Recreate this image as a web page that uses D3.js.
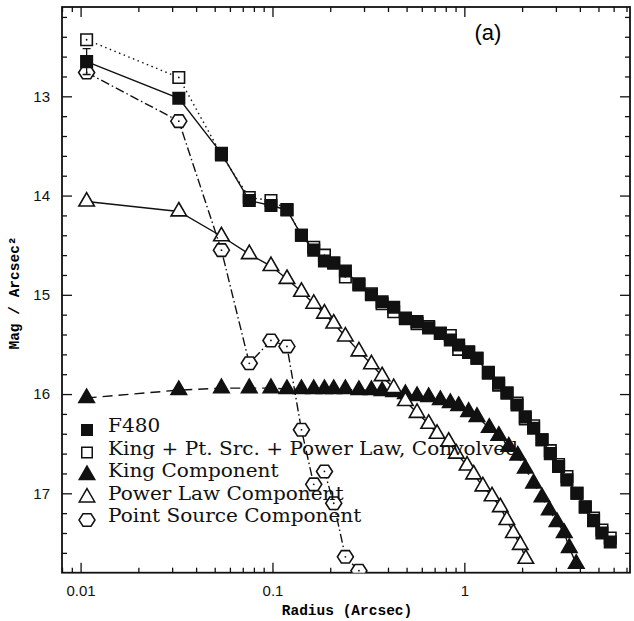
<!DOCTYPE html>
<html>
<head>
<meta charset="utf-8">
<script src="https://cdn.jsdelivr.net/npm/d3@7"></script>
<style>
body { margin: 0; background: #fff; }
</style>
</head>
<body>
<div id="chart"></div>
<script>
// observed F480 profile (filled squares) and the convolved model (open squares), same radii
var f480Radius = [0.01075, 0.0325, 0.0542, 0.0757, 0.0982, 0.119, 0.1416, 0.1641, 0.1866, 0.2086,
	0.2399, 0.2822, 0.3279, 0.3727, 0.4283, 0.4929, 0.5669, 0.6518, 0.7499, 0.8453,
	0.9338, 1.053, 1.164, 1.334, 1.509, 1.669, 1.882, 2.078, 2.296, 2.540,
	2.805, 3.098, 3.426, 3.864, 4.268, 4.714, 5.214, 5.760];
var f480Mag = [12.65, 13.02, 13.575, 14.05, 14.10, 14.145, 14.40, 14.55, 14.66, 14.68,
	14.76, 14.89, 15.00, 15.07, 15.125, 15.235, 15.27, 15.335, 15.385, 15.455,
	15.505, 15.575, 15.64, 15.79, 15.89, 15.99, 16.11, 16.23, 16.345, 16.46,
	16.60, 16.73, 16.865, 17.00, 17.135, 17.275, 17.40, 17.49];
var f480Err = [0.13];
var modelMag = [12.43, 12.81, 13.59, 14.02, 14.05, 14.14, 14.40, 14.52, 14.60, 14.68,
	14.82, 14.90, 14.99, 15.09, 15.17, 15.24, 15.29, 15.32, 15.39, 15.41,
	15.55, 15.58, 15.64, 15.78, 15.91, 15.99, 16.09, 16.25, 16.32, 16.46,
	16.57, 16.71, 16.83, 17.00, 17.14, 17.25, 17.37, 17.45];

// king component (filled triangles)
var kingRadius = [0.01075, 0.0325, 0.0542, 0.0757, 0.0982, 0.119, 0.1416, 0.1641, 0.1866, 0.2086,
	0.2399, 0.2822, 0.3279, 0.3727, 0.4283, 0.4929, 0.5669, 0.6518, 0.7499, 0.8453,
	0.9338, 1.053, 1.164, 1.349, 1.513, 1.705, 1.899, 2.078, 2.296, 2.540,
	2.772, 3.040, 3.318, 3.523, 3.831];
var kingMag = [16.04, 15.96, 15.94, 15.94, 15.94, 15.95, 15.95, 15.95, 15.95, 15.95,
	15.95, 15.96, 15.96, 15.97, 15.98, 16.00, 16.02, 16.03, 16.06, 16.09,
	16.12, 16.18, 16.23, 16.34, 16.42, 16.53, 16.62, 16.75, 16.90, 17.04,
	17.17, 17.29, 17.40, 17.55, 17.71];

// power law component (open triangles)
var powerRadius = [0.01075, 0.0325, 0.0542, 0.0757, 0.0982, 0.119, 0.1416, 0.1641, 0.1866, 0.2086,
	0.2399, 0.2822, 0.3279, 0.3727, 0.4283, 0.4929, 0.5669, 0.6518, 0.7207, 0.8283,
	0.9085, 1.033, 1.118, 1.249, 1.394, 1.540, 1.665, 1.800, 1.957, 2.091];
var powerMag = [14.06, 14.16, 14.41, 14.59, 14.71, 14.84, 14.97, 15.09, 15.19, 15.29,
	15.42, 15.57, 15.70, 15.82, 15.94, 16.07, 16.19, 16.30, 16.40, 16.48,
	16.60, 16.72, 16.81, 16.93, 17.03, 17.14, 17.27, 17.40, 17.52, 17.66];

// point source component (open hexagons)
var pointRadius = [0.01075, 0.0325, 0.0542, 0.0757, 0.0982, 0.119, 0.1416, 0.1641, 0.1866, 0.2086, 0.2399, 0.2822];
var pointMag = [12.76, 13.25, 14.55, 15.69, 15.46, 15.52, 16.36, 16.91, 16.78, 17.10, 17.64, 17.78];

var xMajorTicks = [0.01, 0.1, 1];
var xMinorTicks = [0.008, 0.009, 0.02, 0.03, 0.04, 0.05, 0.06, 0.07, 0.08, 0.09,
	0.2, 0.3, 0.4, 0.5, 0.6, 0.7, 0.8, 0.9, 2, 3, 4, 5, 6, 7];
var yMajorTicks = [13, 14, 15, 16, 17];
var yMinorTicks = [12.2, 12.4, 12.6, 12.8, 13.2, 13.4, 13.6, 13.8, 14.2, 14.4, 14.6, 14.8,
	15.2, 15.4, 15.6, 15.8, 16.2, 16.4, 16.6, 16.8, 17.2, 17.4, 17.6];

var legendLabels = ["F480", "King + Pt. Src. + Power Law, Convolved", "King Component",
	"Power Law Component", "Point Source Component"];

;(function(){

	var w = 634;
	var h = 621;
	var x0 = 62, x1 = 630, y0 = 7, y1 = 572.7;

	var svg = d3.select("#chart")
		.append("svg")
		.attr("width", w)
		.attr("height", h);

	var xscale = d3.scaleLog()
		.domain([0.008, 7.3])
		.range([x0, x1]);

	var yscale = d3.scaleLinear()
		.domain([12.1, 17.8])
		.range([y0, y1]);

	svg.append("clipPath").attr("id", "plotclip")
		.append("rect")
		.attr("x", x0).attr("y", y0)
		.attr("width", x1 - x0).attr("height", y1 - y0);

	// ticks, all pointing into the box
	function tickAxis(axis, values, size, labels){
		axis.tickValues(values).tickSize(-size).tickSizeOuter(0);
		if(!labels) axis.tickFormat("");
		return axis;
	}

	var fmtX = function(d){ return d === 0.01 ? "0.01" : d === 0.1 ? "0.1" : "1"; };

	var gBottom = svg.append("g").attr("transform", "translate(0," + y1 + ")");
	gBottom.append("g").call(tickAxis(d3.axisBottom(xscale), xMinorTicks, 5, false));
	gBottom.append("g").call(tickAxis(d3.axisBottom(xscale), xMajorTicks, 10, true)
		.tickFormat(fmtX).tickPadding(13));

	var gTop = svg.append("g").attr("transform", "translate(0," + y0 + ")");
	gTop.append("g").call(tickAxis(d3.axisTop(xscale), xMinorTicks, 5, false));
	gTop.append("g").call(tickAxis(d3.axisTop(xscale), xMajorTicks, 10, false));

	var gLeft = svg.append("g").attr("transform", "translate(" + x0 + ",0)");
	gLeft.append("g").call(tickAxis(d3.axisLeft(yscale), yMinorTicks, 5, false));
	gLeft.append("g").call(tickAxis(d3.axisLeft(yscale), yMajorTicks, 10, true)
		.tickFormat(d3.format("d")).tickPadding(12));

	var gRight = svg.append("g").attr("transform", "translate(" + x1 + ",0)");
	gRight.append("g").call(tickAxis(d3.axisRight(yscale), yMinorTicks, 5, false));
	gRight.append("g").call(tickAxis(d3.axisRight(yscale), yMajorTicks, 10, false));

	svg.selectAll(".domain").remove();
	svg.selectAll(".tick line").attr("stroke", "#111").attr("stroke-width", 1.3);
	svg.selectAll(".tick text")
		.attr("fill", "#111")
		.style("font-family", "'Liberation Sans', Arial, sans-serif")
		.style("font-size", "15px");

	svg.append("rect")
		.attr("x", x0).attr("y", y0)
		.attr("width", x1 - x0).attr("height", y1 - y0)
		.attr("fill", "none")
		.attr("stroke", "#111")
		.attr("stroke-width", 1.8);

	// axis labels
	svg.append("text")
		.attr("x", 347).attr("y", 615)
		.attr("text-anchor", "middle")
		.style("font-family", "'Liberation Mono', 'Courier New', monospace")
		.style("font-weight", "bold")
		.style("font-size", "14.5px")
		.text("Radius (Arcsec)");

	svg.append("text")
		.attr("transform", "translate(19,293) rotate(-90)")
		.attr("text-anchor", "middle")
		.style("font-family", "'Liberation Mono', 'Courier New', monospace")
		.style("font-weight", "bold")
		.style("font-size", "14.5px")
		.text("Mag / Arcsec²");

	svg.append("text")
		.attr("x", 488).attr("y", 40)
		.attr("text-anchor", "middle")
		.style("font-family", "'Liberation Sans', Arial, sans-serif")
		.style("font-size", "22px")
		.text("(a)");

	var plot = svg.append("g").attr("clip-path", "url(#plotclip)");

	var sq = d3.symbol().type(d3.symbolSquare).size(132)();
	var tri = d3.symbol().type(d3.symbolTriangle).size(104)();
	var hex = d3.line()(d3.range(6).map(function(i){
		var a = i * Math.PI / 3;
		return [8 * Math.cos(a), 7.2 * Math.sin(a)];
	})) + "Z";

	function drawSeries(rs, ms, opt){
		var pts = rs.map(function(r, i){ return [xscale(r), yscale(ms[i])]; });
		plot.append("path")
			.attr("d", d3.line()(pts))
			.attr("fill", "none")
			.attr("stroke", "#111")
			.attr("stroke-width", 1.4)
			.attr("stroke-dasharray", opt.dash);
		plot.selectAll(null)
			.data(pts)
			.enter().append("path")
			.attr("transform", function(d){ return "translate(" + d[0] + "," + d[1] + ")"; })
			.attr("d", opt.shape)
			.attr("fill", opt.fill)
			.attr("stroke", "#111")
			.attr("stroke-width", 1.6);
		if(opt.dot){
			plot.selectAll(null)
				.data(pts)
				.enter().append("circle")
				.attr("cx", function(d){ return d[0]; })
				.attr("cy", function(d){ return d[1]; })
				.attr("r", 0.9)
				.attr("fill", "#111");
		}
	}

	drawSeries(kingRadius, kingMag, {shape: tri, fill: "#111", dash: "10,6"});
	drawSeries(powerRadius, powerMag, {shape: tri, fill: "#fff", dash: null});
	drawSeries(pointRadius, pointMag, {shape: hex, fill: "#fff", dash: "9,3,1.5,3", dot: true});
	drawSeries(f480Radius, modelMag, {shape: sq, fill: "#fff", dash: "1.5,3.5", dot: true});

	// error bar on the innermost F480 point
	f480Err.forEach(function(e, i){
		var cx = xscale(f480Radius[i]);
		var ya = yscale(f480Mag[i] - e), yb = yscale(f480Mag[i] + e);
		plot.append("path")
			.attr("d", "M" + cx + "," + ya + "V" + yb + "M" + (cx - 4) + "," + ya + "H" + (cx + 4) +
				"M" + (cx - 4) + "," + yb + "H" + (cx + 4))
			.attr("stroke", "#111")
			.attr("stroke-width", 1.3);
	});

	drawSeries(f480Radius, f480Mag, {shape: sq, fill: "#111", dash: null});

	// legend
	var legend = svg.append("g");
	var legendShapes = [
		{shape: d3.symbol().type(d3.symbolSquare).size(110)(), fill: "#111"},
		{shape: d3.symbol().type(d3.symbolSquare).size(110)(), fill: "#fff"},
		{shape: tri, fill: "#111"},
		{shape: tri, fill: "#fff"},
		{shape: hex, fill: "#fff"}
	];
	var labels = [];
	legendLabels.forEach(function(lab, i){
		var yb = 432 + i * 22.5;
		legend.append("path")
			.attr("transform", "translate(87," + (yb - 2) + ")")
			.attr("d", legendShapes[i].shape)
			.attr("fill", legendShapes[i].fill)
			.attr("stroke", "#111")
			.attr("stroke-width", 1.5);
		labels.push(legend.append("text")
			.attr("x", 108).attr("y", yb)
			.style("font-family", "'DejaVu Serif', serif")
			.style("font-size", "18px")
			.attr("fill", "#111")
			.text(lab));
	});
	// the original face is wider than DejaVu Serif: stretch so the long entry spans to x=518
	var stretch = 410 / labels[1].node().getComputedTextLength();
	labels.forEach(function(t){
		t.attr("textLength", t.node().getComputedTextLength() * stretch)
			.attr("lengthAdjust", "spacingAndGlyphs");
	});

})();
</script>
</body>
</html>
